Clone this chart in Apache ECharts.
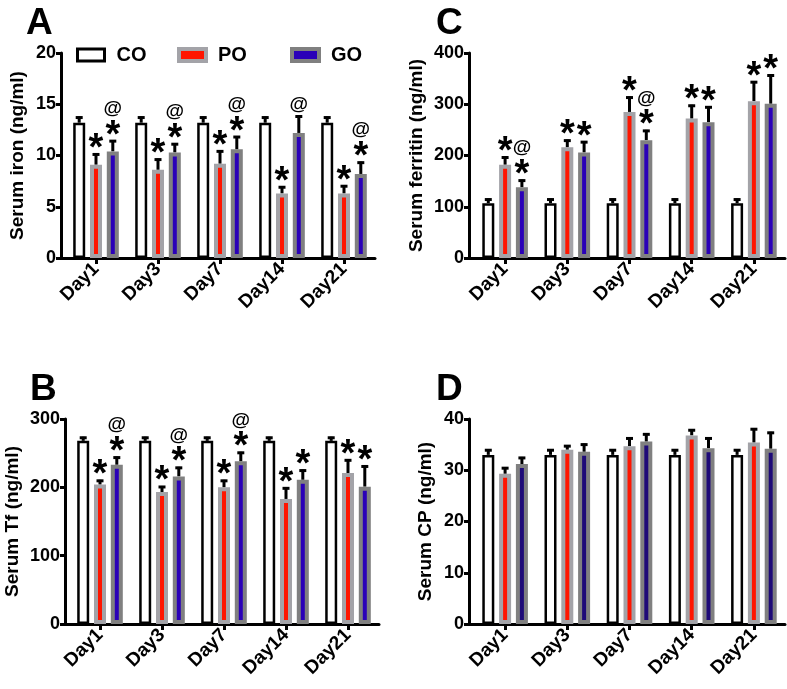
<!DOCTYPE html>
<html>
<head>
<meta charset="utf-8">
<script src="https://cdn.jsdelivr.net/npm/echarts@6/dist/echarts.min.js"></script>
<style>
  html, body { margin: 0; padding: 0; background: #fff; }
  #main { width: 787px; height: 689px; }
</style>
</head>
<body>
<div id="main"></div>
<script>
var days = ['Day1', 'Day3', 'Day7', 'Day14', 'Day21'];

// A - serum iron
var ironCO = [13.2, 13.2, 13.2, 13.2, 13.2];
var ironCOErr = [0.6, 0.6, 0.6, 0.6, 0.6];
var ironPO = [9.1, 8.6, 9.2, 6.3, 6.3];
var ironPOErr = [1.1, 1.1, 1.3, 0.7, 0.8];
var ironGO = [10.4, 10.3, 10.6, 12.2, 8.2];
var ironGOErr = [1.1, 0.9, 1.3, 1.7, 1.2];
var ironPOMark = ['*', '*', '*', '*', '*'];
var ironGOMark = ['@*', '@*', '@*', '@', '@*'];

// B - serum Tf
var tfCO = [268, 268, 268, 268, 268];
var tfCOErr = [6, 6, 6, 6, 6];
var tfPO = [204, 193, 200, 183, 221];
var tfPOErr = [7, 9, 11, 17, 20];
var tfGO = [233, 216, 238, 211, 201];
var tfGOErr = [12, 14, 14, 15, 31];
var tfPOMark = ['*', '*', '*', '*', '*'];
var tfGOMark = ['@*', '@*', '@*', '*', '*'];

// C - serum ferritin
var ferCO = [107, 107, 107, 107, 107];
var ferCOErr = [9, 9, 9, 9, 9];
var ferPO = [182, 216, 285, 272, 306];
var ferPOErr = [16, 15, 30, 27, 39];
var ferGO = [138, 206, 230, 265, 301];
var ferGOErr = [15, 22, 20, 31, 57];
var ferPOMark = ['*', '*', '*', '*', '*'];
var ferGOMark = ['@*', '*', '@*', '*', '*'];

// D - serum CP
var cpCO = [33.0, 33.0, 33.0, 33.0, 33.0];
var cpCOErr = [1.1, 1.1, 1.1, 1.1, 1.1];
var cpPO = [29.3, 34.0, 34.7, 36.8, 35.4];
var cpPOErr = [1.3, 0.9, 1.7, 1.2, 2.8];
var cpGO = [31.2, 33.6, 35.6, 34.3, 34.2];
var cpGOErr = [1.4, 1.6, 1.6, 2.1, 3.3];
var cpNoMark = ['', '', '', '', ''];

var FONT = 'Liberation Sans, Arial, sans-serif';
var BAR_W = 12;
var GAP = 0.4;
var STEP = BAR_W * (1 + GAP);

var panels = [
    { letter: 'A', name: 'Serum iron (ng/ml)', max: 20, interval: 5, left: 61, top: 53, width: 314, inset: 4, nameGap: 34,
      co: ironCO, coErr: ironCOErr, po: ironPO, poErr: ironPOErr, go: ironGO, goErr: ironGOErr,
      poMark: ironPOMark, goMark: ironGOMark, goColor: '#2a00b8' },
    { letter: 'C', name: 'Serum ferritin (ng/ml)', max: 400, interval: 100, left: 469, top: 53, width: 316, inset: 5, nameGap: 43,
      co: ferCO, coErr: ferCOErr, po: ferPO, poErr: ferPOErr, go: ferGO, goErr: ferGOErr,
      poMark: ferPOMark, goMark: ferGOMark, goColor: '#2a00b8' },
    { letter: 'B', name: 'Serum Tf (ng/ml)', max: 300, interval: 100, left: 65, top: 419, width: 314, inset: 4, nameGap: 43,
      co: tfCO, coErr: tfCOErr, po: tfPO, poErr: tfPOErr, go: tfGO, goErr: tfGOErr,
      poMark: tfPOMark, goMark: tfGOMark, goColor: '#2a00b8' },
    { letter: 'D', name: 'Serum CP (ng/ml)', max: 40, interval: 10, left: 469, top: 419, width: 316, inset: 5, nameGap: 34,
      co: cpCO, coErr: cpCOErr, po: cpPO, poErr: cpPOErr, go: cpGO, goErr: cpGOErr,
      poMark: cpNoMark, goMark: cpNoMark, goColor: '#1e0a78' }
];

function errRender(k) {
    return function (params, api) {
        var base = api.coord([api.value(0), api.value(1)]);
        var top = api.coord([api.value(0), api.value(1) + api.value(2)]);
        var x = base[0] + (k - 1) * STEP;
        return {
            type: 'group',
            children: [
                { type: 'line', shape: { x1: x, y1: base[1], x2: x, y2: top[1] }, style: { stroke: '#000', lineWidth: 3 } },
                { type: 'line', shape: { x1: x - 3.5, y1: top[1] + 1, x2: x + 3.5, y2: top[1] + 1 }, style: { stroke: '#000', lineWidth: 3 } }
            ]
        };
    };
}

function markRender(k, marks) {
    return function (params, api) {
        var m = marks[params.dataIndex];
        if (!m) return null;
        var top = api.coord([api.value(0), api.value(1) + api.value(2)]);
        var x = top[0] + (k - 1) * STEP;
        var children = [];
        var y = top[1];
        if (m.indexOf('*') >= 0) {
            children.push({ type: 'text', x: x, y: y + 15, style: { text: '*', font: 'bold 38px ' + FONT, fill: '#000', align: 'center', verticalAlign: 'bottom' } });
            y -= 21;
        }
        if (m.indexOf('@') >= 0) {
            children.push({ type: 'text', x: x, y: y - 1, style: { text: '@', font: 'bold 19px ' + FONT, fill: '#000', align: 'center', verticalAlign: 'bottom' } });
        }
        return { type: 'group', children: children };
    };
}

var grids = [], xAxes = [], yAxes = [], series = [], titles = [];

panels.forEach(function (p, n) {
    var outer = n * 2, inner = n * 2 + 1;
    grids.push({ left: p.left, top: p.top, width: p.width, height: 205 });
    grids.push({ left: p.left + p.inset, top: p.top, width: p.width - p.inset, height: 205 });

    xAxes.push({
        type: 'category', gridIndex: outer, data: [''],
        axisLine: { lineStyle: { color: '#000', width: 3 } },
        axisTick: { show: false }, axisLabel: { show: false }
    });
    xAxes.push({
        type: 'category', gridIndex: inner, data: days,
        axisLine: { show: false },
        axisTick: { show: true, alignWithLabel: true, length: 6, lineStyle: { color: '#000', width: 3 } },
        axisLabel: { rotate: 45, margin: 8, color: '#000', fontSize: 19, fontWeight: 'bold', fontFamily: FONT }
    });
    yAxes.push({
        type: 'value', gridIndex: outer, min: 0, max: p.max, interval: p.interval,
        name: p.name, nameLocation: 'middle', nameGap: p.nameGap,
        nameTextStyle: { color: '#000', fontSize: 19, fontWeight: 'bold', fontFamily: FONT },
        axisLine: { show: true, lineStyle: { color: '#000', width: 3 } },
        axisTick: { show: true, length: 5, lineStyle: { color: '#000', width: 3 } },
        axisLabel: { margin: 5, color: '#000', fontSize: 18, fontWeight: 'bold', fontFamily: FONT },
        splitLine: { show: false }
    });
    yAxes.push({ type: 'value', gridIndex: inner, min: 0, max: p.max, interval: p.interval, show: false });

    var bars = [
        { name: 'CO', data: p.co, style: { color: '#fff', borderColor: '#000', borderWidth: 2.5 } },
        { name: 'PO', data: p.po, style: { color: '#ff1500', borderColor: '#a3a3a8', borderWidth: 4 } },
        { name: 'GO', data: p.go, style: { color: p.goColor, borderColor: '#808080', borderWidth: 4 } }
    ];
    bars.forEach(function (b) {
        series.push({
            name: b.name, type: 'bar', xAxisIndex: inner, yAxisIndex: inner,
            barWidth: BAR_W, barGap: (GAP * 100) + '%',
            itemStyle: b.style, data: b.data, z: 2
        });
    });

    var errs = [[p.co, p.coErr], [p.po, p.poErr], [p.go, p.goErr]];
    errs.forEach(function (e, k) {
        series.push({
            type: 'custom', xAxisIndex: inner, yAxisIndex: inner, z: 1,
            renderItem: errRender(k),
            data: days.map(function (d, i) { return [i, e[0][i], e[1][i]]; })
        });
    });
    [[p.po, p.poErr, p.poMark, 1], [p.go, p.goErr, p.goMark, 2]].forEach(function (e) {
        series.push({
            type: 'custom', xAxisIndex: inner, yAxisIndex: inner, z: 3,
            renderItem: markRender(e[3], e[2]),
            data: days.map(function (d, i) { return [i, e[0][i], e[1][i]]; })
        });
    });

    titles.push({
        text: p.letter, left: p.left - (n % 2 === 0 ? 40 : 38), top: p.top - 53,
        textStyle: { fontSize: 37, fontWeight: 'bold', fontFamily: FONT, color: '#000' }
    });
});

var legendText = { fontSize: 20, fontWeight: 'bold', fontFamily: FONT, color: '#000', padding: [0, 0, 0, 7] };
var legends = [
    { data: ['CO'], left: 76, itemStyle: { color: '#fff', borderColor: '#000', borderWidth: 3 } },
    { data: ['PO'], left: 177, itemStyle: { color: '#ff1500', borderColor: '#a3a3a8', borderWidth: 4 } },
    { data: ['GO'], left: 290, itemStyle: { color: '#2a00b8', borderColor: '#808080', borderWidth: 4 } }
].map(function (l) {
    return {
        data: l.data, left: l.left, top: 45, padding: 0, icon: 'rect', itemWidth: 27, itemHeight: 12,
        itemGap: 0, selectedMode: false, textStyle: legendText, itemStyle: l.itemStyle
    };
});

var myChart = echarts.init(document.getElementById('main'));
var option = {
    backgroundColor: '#fff',
    animation: false,
    title: titles,
    legend: legends,
    grid: grids,
    xAxis: xAxes,
    yAxis: yAxes,
    series: series
};
myChart.setOption(option);
window.onresize = myChart.resize;
</script>
</body>
</html>
